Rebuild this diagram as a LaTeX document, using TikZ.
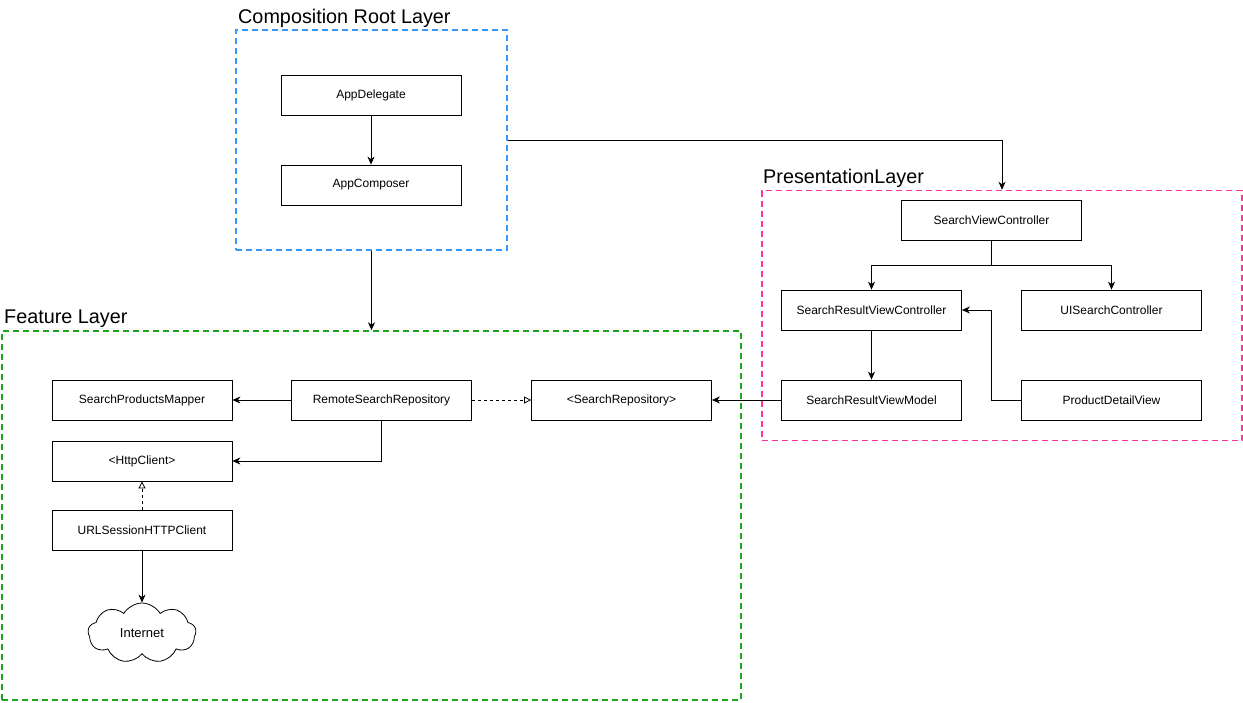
\documentclass[tikz,border=0pt]{standalone}
\usepackage{fontspec}
\setmainfont{Liberation Sans}
\usetikzlibrary{arrows.meta,shapes.symbols}
\definecolor{cblue}{RGB}{51,153,255}
\definecolor{cgreen}{RGB}{30,165,30}
\definecolor{cpink}{RGB}{255,51,153}
\tikzset{
  cls/.style={draw,line width=0.8pt,minimum width=180pt,minimum height=40pt,inner sep=0pt,font=\fontsize{12}{14}\selectfont},
  grp/.style={draw,line width=1.5pt,dash pattern=on 6pt off 4pt,inner sep=0pt},
  ttl/.style={anchor=base west,inner sep=0pt,font=\fontsize{19.8}{22}\selectfont},
  conn/.style={line width=0.8pt,-{Stealth[length=8pt,width=7pt,inset=2.5pt]}},
  impl/.style={line width=0.8pt,dash pattern=on 3pt off 3pt,-{Triangle[open,length=7pt,width=7pt]}}
}
\begin{document}
\begin{tikzpicture}[x=1pt,y=-1pt]
\useasboundingbox (0,0) rectangle (1243,702);
% groups
\node[grp,draw=cblue,minimum width=271pt,minimum height=220pt] (comp) at (371.5,140) {};
\node[grp,draw=cpink,minimum width=480pt,minimum height=250pt] (pres) at (1002,315.5) {};
\node[grp,draw=cgreen,minimum width=739pt,minimum height=369pt] (feat) at (371.5,515.5) {};
\node[ttl] (tcomp) at (238,23) {Composition Root Layer};
\node[ttl] (tpres) at (763,183) {PresentationLayer};
\node[ttl] (tfeat) at (4,323) {Feature Layer};
% composition
\node[cls] (ad) at (371,95) {AppDelegate};
\node[cls] (ac) at (371,185) {AppComposer};
% presentation
\node[cls] (svc) at (991.5,220) {SearchViewController};
\node[cls] (srvc) at (871.5,310) {SearchResultViewController};
\node[cls] (uisc) at (1111.5,310) {UISearchController};
\node[cls] (srvm) at (871.5,400) {SearchResultViewModel};
\node[cls] (pdv) at (1111.5,400) {ProductDetailView};
% feature
\node[cls] (spm) at (142,400) {SearchProductsMapper};
\node[cls] (rsr) at (381.5,400) {RemoteSearchRepository};
\node[cls] (sr) at (621.5,400) {<SearchRepository>};
\node[cls] (hc) at (142,461) {<HttpClient>};
\node[cls] (url) at (142,530) {URLSessionHTTPClient};
\node[cloud,draw,line width=0.8pt,cloud puffs=9,cloud puff arc=120,aspect=1.9,minimum width=108pt,minimum height=60pt,inner sep=0pt,font=\fontsize{13}{15}\selectfont] (net) at (142,633) {Internet};
% connectors
\draw[conn] (ad) -- (ac);
\draw[conn] (comp.east) -| (pres.north);
\draw[conn] (comp.south) -- (feat.north);
\coordinate (br) at (991.5,265);
\draw[line width=0.8pt] (svc.south) -- (br);
\draw[conn] (br) -| (srvc.north);
\draw[conn] (br) -| (uisc.north);
\draw[conn] (srvc) -- (srvm);
\draw[conn] (pdv.west) -- (991.5,400) |- (srvc.east);
\draw[conn] (srvm) -- (sr);
\draw[conn] (rsr) -- (spm);
\draw[conn] (rsr.south) |- (hc.east);
\draw[impl] (rsr) -- (sr);
\draw[impl] (url) -- (hc);
\draw[conn] (url.south) -- (net.north);
\end{tikzpicture}
\end{document}
